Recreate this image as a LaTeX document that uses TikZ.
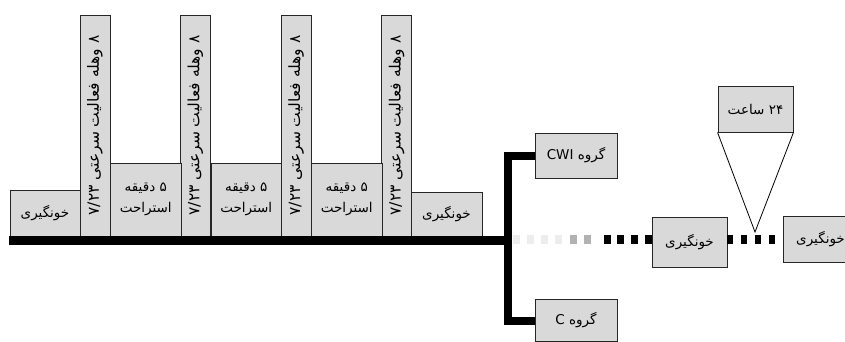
\documentclass[tikz,border=0pt]{standalone}
\usepackage{fontspec}
\newfontfamily\fa[Script=Arabic]{DejaVu Sans}
\TeXXeTstate=1
\definecolor{boxgray}{RGB}{217,217,217}

\begin{document}
\begin{tikzpicture}[x=1pt,y=-1pt,
    box/.style={draw=black!85, fill=boxgray, line width=0.9pt, inner sep=0pt,
                font=\fa\fontsize{13.5}{17}\selectfont, align=center},
    bar/.style={line width=9pt, line join=miter},
    sq/.style={line width=9pt, dash pattern=on 6pt off 8pt}]
    \useasboundingbox (0,0) rectangle (845,341);

    % blood sample at the start
    \node[box, minimum width=70pt, minimum height=46pt] (start) at (45,213)
        {\beginR خونگیری\endR};

    % sprint bouts and rests
    \foreach \i in {1,...,4} {
        \node[box, rotate=90, minimum width=221pt, minimum height=30pt,
              font=\fa\fontsize{15.5}{18}\selectfont]
            (sprint\i) at ({95+100.5*(\i-1)},125.5)
            {\beginR ۸ وهله فعالیت سرعتی \beginL ۷/۲۳\endL\endR};
    }
    \foreach \i in {1,...,3} {
        \node[box, minimum width=70.5pt, minimum height=73pt]
            (rest\i) at ({145.75+100.5*(\i-1)},199.5)
            {\beginR ۵ دقیقه\endR\\[4pt]\beginR استراحت\endR};
    }

    % blood sample after the bouts
    \node[box, minimum width=71pt, minimum height=44pt] (post) at (446.5,214)
        {\beginR خونگیری\endR};

    % groups
    \node[box, minimum width=82pt, minimum height=45pt] (cwi) at (576,155.5)
        {\beginR گروه \beginL CWI\endL\endR};
    \node[box, minimum width=82pt, minimum height=42pt] (grpc) at (576,320.5)
        {\beginR گروه \beginL C\endL\endR};

    % later samples
    \node[box, minimum width=75pt, minimum height=50pt] (mid) at (689.5,242)
        {\beginR خونگیری\endR};
    \node[box, minimum width=75pt, minimum height=46pt] (last) at (820.5,239)
        {\beginR خونگیری\endR};
    \node[box, minimum width=75pt, minimum height=46pt] (day) at (755.5,109)
        {\beginR \beginL ۲۴\endL{} ساعت\endR};

    % time line
    \coordinate (barL) at (9,240.5);
    \coordinate (jn) at (508,240.5);
    \coordinate (apex) at (755,232);
    \draw[bar] (barL) -- (jn);
    \draw[bar, line width=8pt] (cwi.west) -| (jn) |- (grpc.west);

    % fading dots towards the next sample
    \foreach \dx/\shade in {7/black,21/black,35/black,48/black,68/black!30,
                            82/black!30,97/black!7,111/black!7,125/black!7,139/black!7}
        \fill[\shade] ([xshift=-\dx pt, yshift=3pt]mid.west) ++(0,-4.5) rectangle ++(7,9);
    \draw[sq] ([yshift=3pt]mid.east) -- ([yshift=3pt]mid.east -| last.west);

    % zoom on the 24 hours
    \draw[line width=0.8pt] (day.south west) -- (apex) -- (day.south east);
\end{tikzpicture}
\end{document}
